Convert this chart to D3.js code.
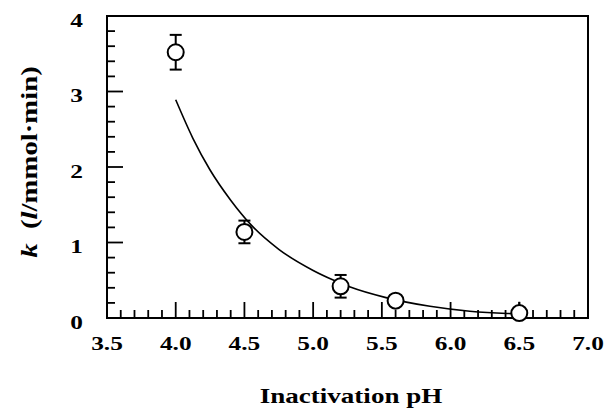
<!DOCTYPE html>
<html><head><meta charset="utf-8">
<script src="https://cdn.jsdelivr.net/npm/d3@7"></script>
<style>body{margin:0;background:#fff}svg{display:block}</style>
</head><body><svg id="c" width="606" height="414"></svg>
<script>
const pointPH = [4.0, 4.5, 5.2, 5.6, 6.5];
const pointK = [3.52, 1.14, 0.42, 0.23, 0.065];
const pointErr = [0.23, 0.15, 0.15, 0.04, 0.15];
const curvePH = [4.0, 4.125, 4.25, 4.4, 4.55, 4.75, 5.0, 5.15, 5.27, 5.53, 5.85, 6.14, 6.41, 6.5];
const curveK = [2.89, 2.38, 1.96, 1.56, 1.23, 0.91, 0.63, 0.50, 0.41, 0.27, 0.155, 0.09, 0.06, 0.055];
const xTicks = [3.5, 4.0, 4.5, 5.0, 5.5, 6.0, 6.5, 7.0];
const yTicks = [0, 1, 2, 3, 4];

const svg = d3.select("#c");
const L = 107, R = 588, T = 16, B = 318;
const x = d3.scaleLinear().domain([3.5, 7.0]).range([L, R]);
const y = d3.scaleLinear().domain([0, 4]).range([B, T]);
const font = "'Liberation Serif','Times New Roman',serif";

const xMinor = d3.range(35, 71).map(v => v / 10).filter(v => !xTicks.some(t => Math.abs(t - v) < 1e-6));
const yMinor = d3.range(0, 21).map(v => v / 5).filter(v => !yTicks.some(t => Math.abs(t - v) < 1e-6));

const g = svg.append("g");
g.selectAll(".xmin").data(xMinor).join("line")
  .attr("x1", d => x(d)).attr("x2", d => x(d)).attr("y1", B).attr("y2", B - 8)
  .attr("stroke", "#000").attr("stroke-width", 1.8);
g.selectAll(".xmaj").data(xTicks).join("line")
  .attr("x1", d => x(d)).attr("x2", d => x(d)).attr("y1", B).attr("y2", B - 16)
  .attr("stroke", "#000").attr("stroke-width", 1.8);
g.selectAll(".ymin").data(yMinor).join("line")
  .attr("x1", L).attr("x2", L + 8).attr("y1", d => y(d)).attr("y2", d => y(d))
  .attr("stroke", "#000").attr("stroke-width", 1.8);
g.selectAll(".ymaj").data(yTicks).join("line")
  .attr("x1", L).attr("x2", L + 16).attr("y1", d => y(d)).attr("y2", d => y(d))
  .attr("stroke", "#000").attr("stroke-width", 1.8);

g.append("rect").attr("x", L).attr("y", T).attr("width", R - L).attr("height", B - T)
  .attr("fill", "none").attr("stroke", "#000").attr("stroke-width", 2);

const sx = 1.3;
g.selectAll(".xl").data(xTicks).join("text")
  .attr("transform", d => `translate(${x(d)},349.5) scale(${sx},1)`).attr("text-anchor", "middle")
  .attr("font-family", font).attr("font-weight", "bold").attr("font-size", 19.5)
  .text(d => d.toFixed(1));
g.selectAll(".yl").data(yTicks).join("text")
  .attr("transform", d => `translate(83,${y(d) + 10.5}) scale(${sx},1)`).attr("text-anchor", "end")
  .attr("font-family", font).attr("font-weight", "bold").attr("font-size", 19.5)
  .text(d => d);

g.append("text").attr("transform", `translate(351,403) scale(1.23,1)`).attr("text-anchor", "middle")
  .attr("font-family", font).attr("font-weight", "bold").attr("font-size", 22)
  .text("Inactivation pH");
const yt = g.append("text").attr("transform", `translate(37,162) rotate(-90) scale(1.25,1)`)
  .attr("text-anchor", "middle").attr("font-family", font).attr("font-weight", "bold").attr("font-size", 23);
yt.append("tspan").attr("font-style", "italic").text("k");
yt.append("tspan").text("\u00a0\u00a0(");
yt.append("tspan").attr("font-style", "italic").text("l");
yt.append("tspan").text("/mmol\u00b7min)");

const curveData = curvePH.map((p, i) => [p, curveK[i]]);
g.append("path").datum(curveData)
  .attr("d", d3.line().x(d => x(d[0])).y(d => y(d[1])).curve(d3.curveMonotoneX))
  .attr("fill", "none").attr("stroke", "#000").attr("stroke-width", 1.6);

const pts = pointPH.map((p, i) => ({p, k: pointK[i], e: pointErr[i]}));
const pg = g.selectAll(".pt").data(pts).join("g");
pg.append("line").attr("x1", d => x(d.p)).attr("x2", d => x(d.p))
  .attr("y1", d => y(d.k + d.e)).attr("y2", d => y(Math.max(0, d.k - d.e)))
  .attr("stroke", "#000").attr("stroke-width", 2);
const capped = pg.filter(d => d.e > 0.1 && d.k - d.e > 0);
capped.append("line").attr("x1", d => x(d.p) - 6).attr("x2", d => x(d.p) + 6)
  .attr("y1", d => y(d.k + d.e)).attr("y2", d => y(d.k + d.e))
  .attr("stroke", "#000").attr("stroke-width", 2);
capped.append("line").attr("x1", d => x(d.p) - 6).attr("x2", d => x(d.p) + 6)
  .attr("y1", d => y(d.k - d.e)).attr("y2", d => y(d.k - d.e))
  .attr("stroke", "#000").attr("stroke-width", 2);
pg.append("circle").attr("cx", d => x(d.p)).attr("cy", d => y(d.k)).attr("r", 8)
  .attr("fill", "#fff").attr("stroke", "#000").attr("stroke-width", 2);
</script></body></html>
